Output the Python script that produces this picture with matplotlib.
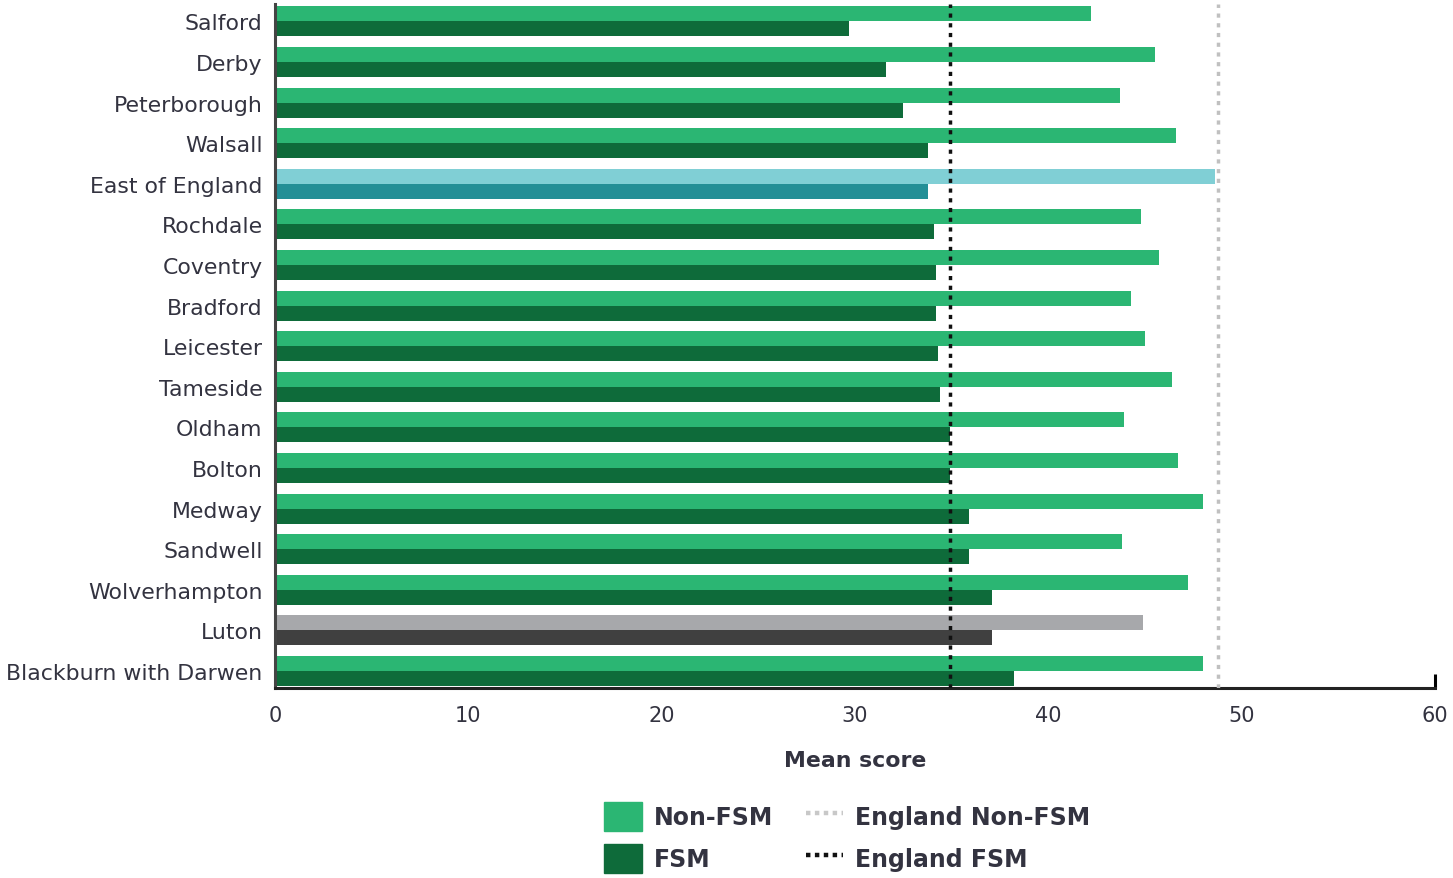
import numpy as np
import matplotlib.pyplot as plt
from matplotlib.patches import Patch
from matplotlib.lines import Line2D

areas = ["Salford", "Derby", "Peterborough", "Walsall", "East of England",
         "Rochdale", "Coventry", "Bradford", "Leicester", "Tameside",
         "Oldham", "Bolton", "Medway", "Sandwell", "Wolverhampton",
         "Luton", "Blackburn with Darwen"]
non_fsm = [42.2, 45.5, 43.7, 46.6, 48.6, 44.8, 45.7, 44.3, 45.0, 46.4,
           43.9, 46.7, 48.0, 43.8, 47.2, 44.9, 48.0]
fsm = [29.7, 31.6, 32.5, 33.8, 33.8, 34.1, 34.2, 34.2, 34.3, 34.4,
       34.9, 34.9, 35.9, 35.9, 37.1, 37.1, 38.2]
england_non_fsm = 48.8
england_fsm = 34.9

c_non = '#2bb673'
c_fsm = '#0e6b3a'
special = {"East of England": ('#80cfd5', '#238f96'),
           "Luton": ('#a7a8ab', '#404040')}
txt = '#333340'

plt.rcParams['font.family'] = ['DejaVu Sans']

fig = plt.figure(figsize=(14.53, 8.79), dpi=100)
ax = fig.add_axes([0.1893, 0.2162, 0.7983, 0.7781])

h = 0.37
y = np.arange(len(areas))
cols_non = [special.get(a, (c_non, c_fsm))[0] for a in areas]
cols_fsm = [special.get(a, (c_non, c_fsm))[1] for a in areas]
ax.barh(y - h / 2, non_fsm, height=h, color=cols_non, zorder=2)
ax.barh(y + h / 2, fsm, height=h, color=cols_fsm, zorder=2)

ax.axvline(england_non_fsm, color='#c0c0c0', linestyle=(0, (1.2, 1.6)), linewidth=2.5, zorder=3)
ax.axvline(england_fsm, color='#111111', linestyle=(0, (1.2, 1.6)), linewidth=2.5, zorder=3)

ax.set_xlim(0, 60)
ax.set_ylim(16.42, -0.43)
ax.set_yticks(y)
ax.set_yticklabels(areas)
ax.set_xticks([0, 10, 20, 30, 40, 50, 60])
ax.tick_params(axis='y', length=0, labelsize=15.8, labelcolor=txt, pad=9)
ax.tick_params(axis='x', direction='in', length=0, labelsize=15, labelcolor=txt, pad=12)
# only the end tick at 60 is drawn, pointing up
last = ax.xaxis.get_major_ticks()[-1]
last.tick1line.set_markersize(10)
last.tick1line.set_markeredgewidth(2.2)
last.tick1line.set_color('#222222')

for s in ['top', 'right']:
    ax.spines[s].set_visible(False)
ax.spines['bottom'].set_linewidth(2.2)
ax.spines['bottom'].set_color('#222222')
ax.spines['left'].set_linewidth(2.2)
ax.spines['left'].set_color('#444444')

ax.set_xlabel("Mean score", fontsize=15.8, fontweight='bold', color=txt, labelpad=18)

handles = [Patch(color=c_non), Patch(color=c_fsm),
           Line2D([], [], color='#c8c8c8', linestyle=(0, (1.0, 1.0)), linewidth=3.2),
           Line2D([], [], color='#111111', linestyle=(0, (1.0, 1.0)), linewidth=3.2)]
labels = ["Non-FSM", "FSM", "England Non-FSM", "England FSM"]
leg = fig.legend(handles, labels, ncol=2, loc='center', bbox_to_anchor=(0.583, 0.046),
                 frameon=False, prop={'size': 17, 'weight': 'bold'},
                 handlelength=1.6, handleheight=1.5, labelspacing=0.55, columnspacing=1.4,
                 handletextpad=0.5)
for t in leg.get_texts():
    t.set_color(txt)

fig.savefig("out.png", dpi=100)
